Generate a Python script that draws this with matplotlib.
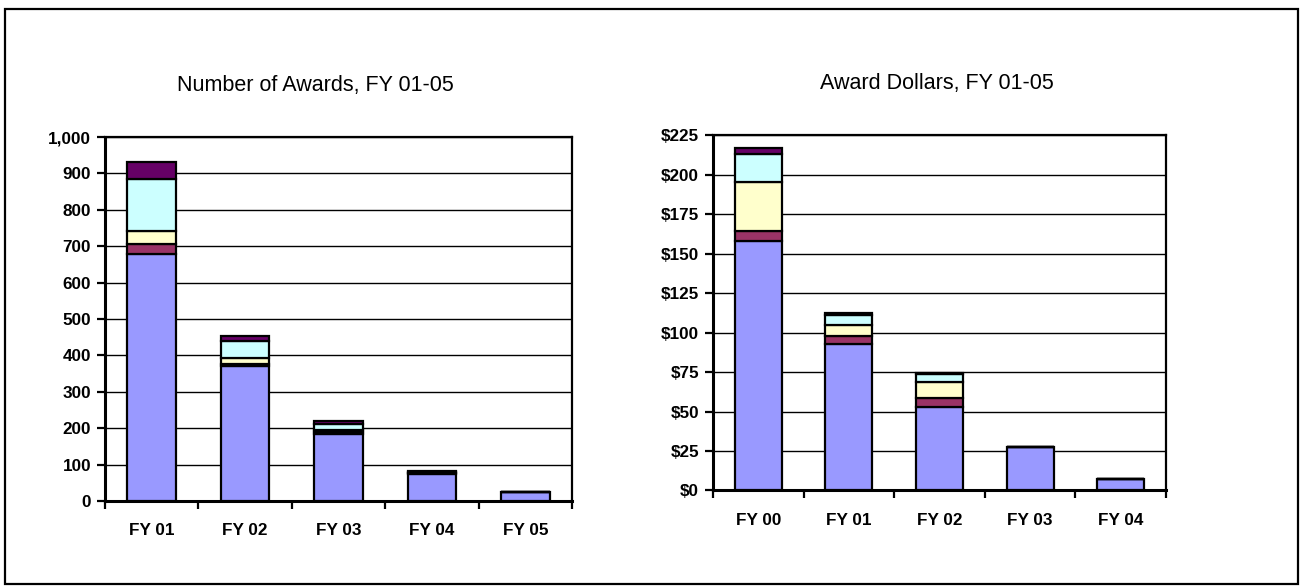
import matplotlib.pyplot as plt
from matplotlib.patches import Rectangle
from matplotlib.ticker import FuncFormatter

# Number of awards (left chart)
count_years = ["FY 01", "FY 02", "FY 03", "FY 04", "FY 05"]
count_s1 = [678, 372, 183, 74, 26]
count_s2 = [27, 5, 7, 3, 0]
count_s3 = [38, 15, 4, 1, 0]
count_s4 = [141, 48, 18, 2, 0]
count_s5 = [47, 12, 8, 2, 0]
count_ticks = [0, 100, 200, 300, 400, 500, 600, 700, 800, 900, 1000]

# Award dollars (right chart)
dollar_years = ["FY 00", "FY 01", "FY 02", "FY 03", "FY 04"]
dollar_s1 = [158, 92.5, 53, 27.5, 7]
dollar_s2 = [6, 5, 5.5, 0, 0]
dollar_s3 = [31, 7.5, 10, 0, 0]
dollar_s4 = [18, 6, 5, 0, 0]
dollar_s5 = [4, 1.5, 1, 0, 0]
dollar_ticks = [0, 25, 50, 75, 100, 125, 150, 175, 200, 225]

colors = ["#9999FF", "#993366", "#FFFFCC", "#CCFFFF", "#660066"]

title_font = ["Liberation Sans", "DejaVu Sans"]
tick_font = ["Liberation Sans", "DejaVu Sans"]


def draw_stack(ax, cats, series, ticks, fmt, title, title_x):
    x = list(range(len(cats)))
    bottom = [0.0] * len(cats)
    for vals, col in zip(series, colors):
        ax.bar(x, vals, width=0.52, bottom=bottom, color=col,
               edgecolor="black", linewidth=1.6, zorder=3)
        bottom = [b + v for b, v in zip(bottom, vals)]

    ax.set_xlim(-0.5, len(cats) - 0.5)
    ax.set_ylim(ticks[0], ticks[-1])
    ax.set_yticks(ticks)
    ax.yaxis.set_major_formatter(FuncFormatter(fmt))
    ax.grid(axis="y", color="black", linewidth=1.0, zorder=0)

    ax.set_xticks(x)
    ax.set_xticklabels(cats)
    ax.set_xticks([i - 0.5 for i in range(len(cats) + 1)], minor=True)
    ax.tick_params(axis="x", which="major", length=0, pad=16)
    ax.tick_params(axis="x", which="minor", length=6, width=1.6, direction="out")
    ax.tick_params(axis="y", length=6, width=1.6, direction="out", pad=4)
    for lab in ax.get_xticklabels() + ax.get_yticklabels():
        lab.set_family(tick_font)
        lab.set_fontweight("bold")
        lab.set_fontsize(12.3)

    for side in ["top", "right"]:
        ax.spines[side].set_linewidth(1.6)
    for side in ["left", "bottom"]:
        ax.spines[side].set_linewidth(2.2)

    ax.set_title(title, family=title_font, fontsize=15.5, pad=33, x=title_x)


fig = plt.figure(figsize=(13.03, 5.87), dpi=100)

# outer frame around the whole picture
fig.patches.append(Rectangle((0.004, 0.005), 0.992, 0.98, transform=fig.transFigure,
                             fill=False, edgecolor="black", linewidth=1.6))

ax1 = fig.add_axes([0.0806, 0.1465, 0.3584, 0.6201])
draw_stack(ax1, count_years,
           [count_s1, count_s2, count_s3, count_s4, count_s5],
           count_ticks, lambda v, p: f"{int(v):,}",
           "Number of Awards, FY 01-05", 0.45)

ax2 = fig.add_axes([0.5472, 0.1644, 0.3477, 0.6056])
draw_stack(ax2, dollar_years,
           [dollar_s1, dollar_s2, dollar_s3, dollar_s4, dollar_s5],
           dollar_ticks, lambda v, p: f"${int(v)}",
           "Award Dollars, FY 01-05", 0.495)

fig.savefig("out.png", dpi=100)
plt.close(fig)
